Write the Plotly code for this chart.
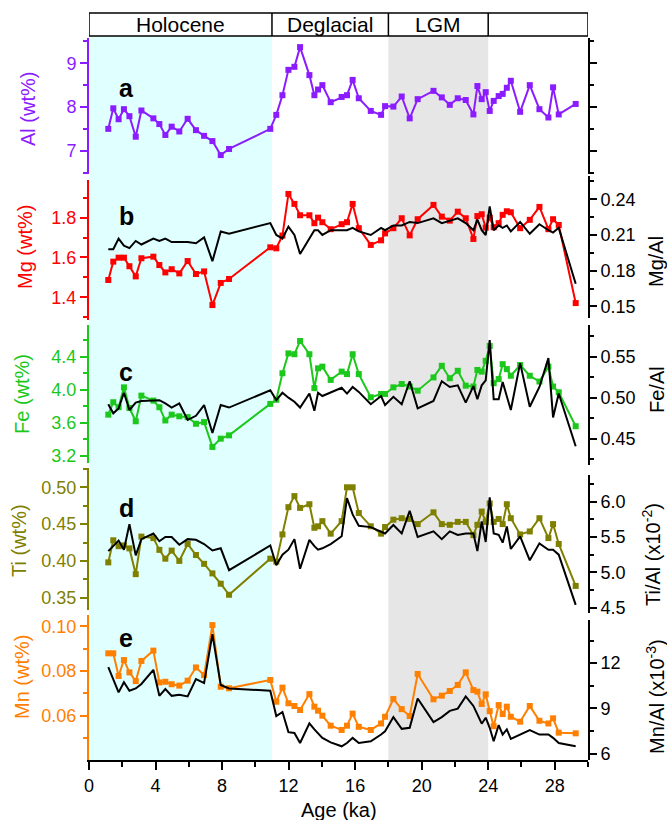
import plotly.graph_objects as go

# ---------------- data ----------------
age = [1.16, 1.46, 1.78, 2.10, 2.43, 2.81, 3.15, 3.87, 4.23, 4.59, 4.97, 5.43, 5.93, 6.43, 6.92,
       7.42, 7.92, 8.42, 10.90, 11.26, 11.63, 11.99, 12.35, 12.69, 13.25, 13.55, 13.77, 14.03,
       14.53, 15.19, 15.51, 15.85, 16.22, 16.94, 17.56, 17.80, 18.30, 18.80, 19.28, 19.76, 20.71,
       21.21, 21.69, 22.17, 22.65, 23.11, 23.35, 23.61, 23.85, 24.09, 24.33, 24.63, 24.87, 25.12,
       25.36, 25.92, 26.50, 27.08, 27.62, 27.90, 28.24, 29.26]

al = [7.50, 7.97, 7.72, 7.95, 7.79, 7.32, 7.92, 7.74, 7.61, 7.36, 7.55, 7.44, 7.73, 7.47, 7.34,
      7.22, 6.90, 7.04, 7.50, 7.82, 8.27, 8.85, 8.92, 9.37, 8.73, 8.27, 8.40, 8.50, 8.11, 8.23,
      8.27, 8.62, 8.20, 7.91, 7.82, 8.02, 8.01, 8.24, 7.74, 8.18, 8.37, 8.22, 8.05, 8.20, 8.16,
      7.83, 8.48, 8.18, 8.34, 7.91, 8.14, 8.25, 8.30, 8.44, 8.60, 7.89, 8.50, 7.95, 7.76, 8.45,
      7.83, 8.07]

mg = [1.487, 1.579, 1.599, 1.599, 1.556, 1.505, 1.596, 1.604, 1.562, 1.525, 1.541, 1.520, 1.582,
      1.517, 1.530, 1.361, 1.472, 1.492, 1.651, 1.646, 1.710, 1.919, 1.869, 1.812, 1.812, 1.772,
      1.800, 1.777, 1.742, 1.767, 1.777, 1.869, 1.747, 1.663, 1.686, 1.721, 1.747, 1.797, 1.711,
      1.792, 1.864, 1.805, 1.785, 1.830, 1.797, 1.693, 1.808, 1.817, 1.750, 1.800, 1.752, 1.772,
      1.814, 1.832, 1.827, 1.747, 1.789, 1.854, 1.742, 1.792, 1.763, 1.371]

mg_al = [0.198, 0.198, 0.207, 0.201, 0.199, 0.205, 0.202, 0.207, 0.205, 0.207, 0.204, 0.204,
         0.204, 0.203, 0.208, 0.188, 0.213, 0.211, 0.220, 0.210, 0.207, 0.217, 0.210, 0.194,
         0.207, 0.214, 0.214, 0.210, 0.214, 0.214, 0.214, 0.216, 0.213, 0.210, 0.216, 0.214,
         0.218, 0.218, 0.221, 0.220, 0.224, 0.220, 0.222, 0.224, 0.220, 0.214, 0.223, 0.214,
         0.210, 0.234, 0.214, 0.218, 0.216, 0.218, 0.213, 0.221, 0.211, 0.219, 0.214, 0.212,
         0.216, 0.169]

fe = [3.70, 3.85, 3.79, 4.03, 3.78, 3.62, 3.93, 3.87, 3.79, 3.63, 3.70, 3.68, 3.67, 3.59, 3.61,
      3.31, 3.41, 3.45, 3.83, 3.88, 4.20, 4.44, 4.43, 4.59, 4.43, 4.02, 4.26, 4.28, 4.12, 4.22,
      4.19, 4.43, 4.19, 3.91, 3.95, 3.95, 4.03, 4.07, 4.04, 3.99, 4.15, 4.29, 4.14, 4.23, 4.05,
      4.04, 4.24, 4.22, 4.35, 4.53, 4.08, 4.13, 4.31, 4.25, 4.17, 4.30, 4.17, 4.10, 4.28, 4.04,
      3.97, 3.56]

fe_al = [0.492, 0.481, 0.487, 0.506, 0.485, 0.494, 0.496, 0.497, 0.497, 0.493, 0.488, 0.493,
         0.473, 0.478, 0.491, 0.457, 0.491, 0.488, 0.509, 0.497, 0.506, 0.500, 0.495, 0.488,
         0.505, 0.484, 0.506, 0.502, 0.506, 0.512, 0.505, 0.513, 0.507, 0.492, 0.502, 0.491,
         0.501, 0.492, 0.520, 0.487, 0.496, 0.520, 0.513, 0.515, 0.494, 0.514, 0.498, 0.515,
         0.521, 0.570, 0.498, 0.498, 0.519, 0.503, 0.485, 0.542, 0.489, 0.513, 0.548, 0.476,
         0.505, 0.441]

ti = [0.398, 0.428, 0.420, 0.421, 0.417, 0.382, 0.433, 0.431, 0.415, 0.403, 0.414, 0.400, 0.423,
      0.408, 0.396, 0.383, 0.369, 0.354, 0.403, 0.399, 0.436, 0.473, 0.488, 0.472, 0.477, 0.445,
      0.447, 0.454, 0.437, 0.454, 0.500, 0.500, 0.465, 0.447, 0.437, 0.446, 0.456, 0.458, 0.457,
      0.450, 0.466, 0.450, 0.449, 0.453, 0.453, 0.435, 0.449, 0.467, 0.453, 0.478, 0.453, 0.457,
      0.450, 0.477, 0.458, 0.436, 0.440, 0.458, 0.431, 0.450, 0.423, 0.366]

ti_al = [5.30, 5.37, 5.45, 5.32, 5.68, 5.24, 5.47, 5.55, 5.44, 5.50, 5.50, 5.39, 5.47, 5.46, 5.40,
         5.31, 5.34, 5.03, 5.38, 5.10, 5.25, 5.32, 5.47, 5.05, 5.46, 5.37, 5.32, 5.34, 5.40, 5.51,
         6.05, 5.82, 5.66, 5.64, 5.58, 5.55, 5.67, 5.55, 5.87, 5.50, 5.58, 5.47, 5.58, 5.53, 5.55,
         5.55, 5.30, 5.72, 5.43, 6.06, 5.55, 5.53, 5.42, 5.65, 5.33, 5.51, 5.17, 5.41, 5.32, 5.32,
         5.25, 4.54]

mn = [0.0879, 0.0879, 0.0778, 0.0849, 0.0794, 0.0755, 0.0845, 0.0891, 0.0749, 0.0752, 0.0741,
      0.0735, 0.0757, 0.0816, 0.0782, 0.1005, 0.0730, 0.0723, 0.0760, 0.0663, 0.0726, 0.0656,
      0.0644, 0.0626, 0.0697, 0.0641, 0.0623, 0.0601, 0.0556, 0.0537, 0.0556, 0.0610, 0.0551,
      0.0537, 0.0566, 0.0596, 0.0675, 0.0630, 0.0599, 0.0787, 0.0674, 0.0690, 0.0711, 0.0738,
      0.0794, 0.0715, 0.0708, 0.0653, 0.0696, 0.0621, 0.0554, 0.0648, 0.0608, 0.0641, 0.0596,
      0.0574, 0.0644, 0.0578, 0.0566, 0.0589, 0.0525, 0.0522]

mn_al = [11.73, 10.95, 10.06, 10.73, 10.17, 10.32, 10.62, 11.56, 9.83, 10.28, 9.83, 9.90, 9.79,
         10.95, 10.68, 13.93, 10.55, 10.32, 10.17, 8.49, 8.76, 7.42, 7.37, 6.70, 8.00, 7.60, 7.37,
         7.04, 6.74, 6.48, 6.70, 7.04, 6.70, 6.81, 7.26, 7.48, 8.42, 7.64, 7.71, 9.65, 8.09, 8.42,
         8.83, 8.98, 9.79, 9.16, 8.60, 7.98, 8.38, 7.71, 6.81, 7.89, 7.26, 7.60, 6.97, 7.26, 7.55,
         7.26, 7.26, 7.04, 6.70, 6.48]

periods = ["Holocene", "Deglacial", "LGM", ""]
period_edges = [0, 11, 18, 24, 30]
x_ticks = [0, 4, 8, 12, 16, 20, 24, 28]

# ---------------- styling ----------------
FONT = "Liberation Sans, Arial, sans-serif"
C_AL, C_MG, C_FE, C_TI, C_MN = "#8B1CFF", "#FF0000", "#1BC81B", "#808000", "#FF8000"
TF = 18  # tick font

fig = go.Figure()

def elem(y, color, ax):
    fig.add_trace(go.Scatter(x=age, y=y, mode="lines+markers", yaxis=ax, xaxis="x",
                             line=dict(color=color, width=2),
                             marker=dict(symbol="square", size=6, color=color),
                             showlegend=False, hoverinfo="skip"))

def ratio(y, ax):
    fig.add_trace(go.Scatter(x=age, y=y, mode="lines", yaxis=ax, xaxis="x",
                             line=dict(color="black", width=2),
                             showlegend=False, hoverinfo="skip"))

elem(al, C_AL, "y")
elem(mg, C_MG, "y2")
ratio(mg_al, "y7")
elem(fe, C_FE, "y3")
ratio(fe_al, "y8")
elem(ti, C_TI, "y4")
ratio(ti_al, "y9")
elem(mn, C_MN, "y5")
ratio(mn_al, "y10")
# carrier trace for the unlabeled right axis of panel a
fig.add_trace(go.Scatter(x=[None], y=[None], yaxis="y6", xaxis="x", showlegend=False,
                         hoverinfo="skip"))

H0 = 760  # pixel y of x axis
PH = 747  # plot height in px
def py(p):
    return (H0 - p) / PH

def left_axis(color, dom, rng, tick0, dtick, mdtick, fmt):
    return dict(domain=[py(dom[1]), py(dom[0])], range=rng, anchor="x", side="left",
                tick0=tick0, dtick=dtick, tickformat=fmt, ticks="outside", ticklen=7,
                tickwidth=1.5, tickcolor=color, showline=True, linecolor=color, linewidth=2,
                showgrid=False, zeroline=False, tickfont=dict(size=TF, color=color, family=FONT),
                minor=dict(dtick=mdtick, tick0=tick0, ticks="outside", ticklen=4,
                           tickwidth=1.5, tickcolor=color, showgrid=False))

def right_axis(dom, rng, tick0, dtick, mdtick, fmt, labels=True):
    return dict(domain=[py(dom[1]), py(dom[0])], range=rng, anchor="x", side="right",
                tick0=tick0, dtick=dtick, tickformat=fmt, ticks="outside", ticklen=7,
                tickwidth=1.5, tickcolor="black", showline=True, linecolor="black", linewidth=2,
                showgrid=False, zeroline=False, showticklabels=labels,
                tickfont=dict(size=TF, color="black", family=FONT),
                minor=dict(dtick=mdtick, tick0=tick0, ticks="outside", ticklen=4,
                           tickwidth=1.5, tickcolor="black", showgrid=False))

fig.update_layout(
    width=667, height=820,
    margin=dict(l=89, r=79, t=13, b=60),
    paper_bgcolor="white", plot_bgcolor="rgba(0,0,0,0)",
    font=dict(family=FONT, size=TF, color="black"),
    xaxis=dict(domain=[0, 1], range=[0, 30], anchor="y5", tickvals=x_ticks,
               ticks="outside", ticklen=8, tickwidth=1.5, tickcolor="black",
               showline=True, linecolor="black", linewidth=2, showgrid=False, zeroline=False,
               tickfont=dict(size=TF, family=FONT),
               minor=dict(dtick=2, tick0=0, ticks="outside", ticklen=5, tickwidth=1.5,
                          tickcolor="black", showgrid=False)),
    xaxis2=dict(overlaying="x", anchor="y", side="top", range=[0, 30], dtick=2, tick0=0,
                ticks="inside", ticklen=4, tickwidth=1, tickcolor="black",
                showticklabels=False, showline=False, showgrid=False, zeroline=False),
    yaxis=left_axis(C_AL, (38, 174), [6.467, 9.579], 7, 1, 0.5, ".0f"),
    yaxis2=left_axis(C_MG, (180, 320), [1.286, 1.989], 1.4, 0.2, 0.1, ".1f"),
    yaxis3=left_axis(C_FE, (325, 463), [3.116, 4.783], 3.2, 0.4, 0.2, ".1f"),
    yaxis4=left_axis(C_TI, (468, 610), [0.3333, 0.5262], 0.35, 0.05, 0.025, ".2f"),
    yaxis5=left_axis(C_MN, (615, 760), [0.0403, 0.1050], 0.06, 0.02, 0.01, ".2f"),
    yaxis6=right_axis((38, 174), [6.467, 9.579], 7, 1, 0.5, ".0f", labels=False),
    yaxis7=right_axis((176, 318), [0.1402, 0.2596], 0.15, 0.03, 0.015, ".2f"),
    yaxis8=right_axis((325, 465), [0.4182, 0.5883], 0.45, 0.05, 0.025, ".2f"),
    yaxis9=right_axis((475, 613), [4.424, 6.378], 4.5, 0.5, 0.25, ".1f"),
    yaxis10=right_axis((620, 760), [5.570, 14.866], 6, 3, 1.5, ".0f"),
)

shapes = []
top = py(36)
shapes.append(dict(type="rect", xref="x", yref="paper", x0=period_edges[0], x1=period_edges[1],
                   y0=0, y1=top, fillcolor="#E0FFFF", line=dict(width=0), layer="below"))
shapes.append(dict(type="rect", xref="x", yref="paper", x0=period_edges[2], x1=period_edges[3],
                   y0=0, y1=top, fillcolor="#E6E6E6", line=dict(width=0), layer="below"))
shapes.append(dict(type="rect", xref="x", yref="paper", x0=period_edges[0], x1=period_edges[-1],
                   y0=top, y1=1.0, line=dict(color="black", width=1.5), fillcolor="rgba(0,0,0,0)"))
for e in period_edges[1:-1]:
    shapes.append(dict(type="line", xref="x", yref="paper", x0=e, x1=e, y0=top, y1=1.0,
                       line=dict(color="black", width=1.5)))
fig.update_layout(shapes=shapes)

ann = []
for i, name in enumerate(periods):
    if name:
        ann.append(dict(x=(period_edges[i] + period_edges[i + 1]) / 2, y=py(24.5), xref="x",
                        yref="paper", text=name, showarrow=False,
                        font=dict(size=21, family=FONT), xanchor="center", yanchor="middle"))

letters = [("a", 88), ("b", 216), ("c", 372), ("d", 508), ("e", 638)]
for t, yy in letters:
    ann.append(dict(x=(126 - 89) / 499, y=py(yy), xref="paper", yref="paper",
                    text="<b>%s</b>" % t, showarrow=False, xanchor="center", yanchor="middle",
                    font=dict(size=25, family=FONT, color="black")))

left_titles = [("Al (wt%)", C_AL, 28, 109), ("Mg (wt%)", C_MG, 25, 247),
               ("Fe (wt%)", C_FE, 22, 394), ("Ti (wt%)", C_TI, 19, 541),
               ("Mn (wt%)", C_MN, 22, 677)]
for t, c, xx, yy in left_titles:
    ann.append(dict(x=(xx - 89) / 499, y=py(yy), xref="paper", yref="paper", text=t,
                    textangle=-90, showarrow=False, xanchor="center", yanchor="middle",
                    font=dict(size=20, family=FONT, color=c)))

right_titles = [("Mg/Al", 656, 262), ("Fe/Al", 657, 390),
                ("Ti/Al (x10<sup>-2</sup>)", 652, 555), ("Mn/Al (x10<sup>-3</sup>)", 655, 697)]
for t, xx, yy in right_titles:
    ann.append(dict(x=(xx - 89) / 499, y=py(yy), xref="paper", yref="paper", text=t,
                    textangle=-90, showarrow=False, xanchor="center", yanchor="middle",
                    font=dict(size=20, family=FONT, color="black")))

ann.append(dict(x=0.5, y=py(810), xref="paper", yref="paper", text="Age (ka)", showarrow=False,
                xanchor="center", yanchor="middle", font=dict(size=20, family=FONT)))
fig.update_layout(annotations=ann)

fig.write_html("out.html", config={"displayModeBar": False},
               post_script="document.body.style.margin='0';")
